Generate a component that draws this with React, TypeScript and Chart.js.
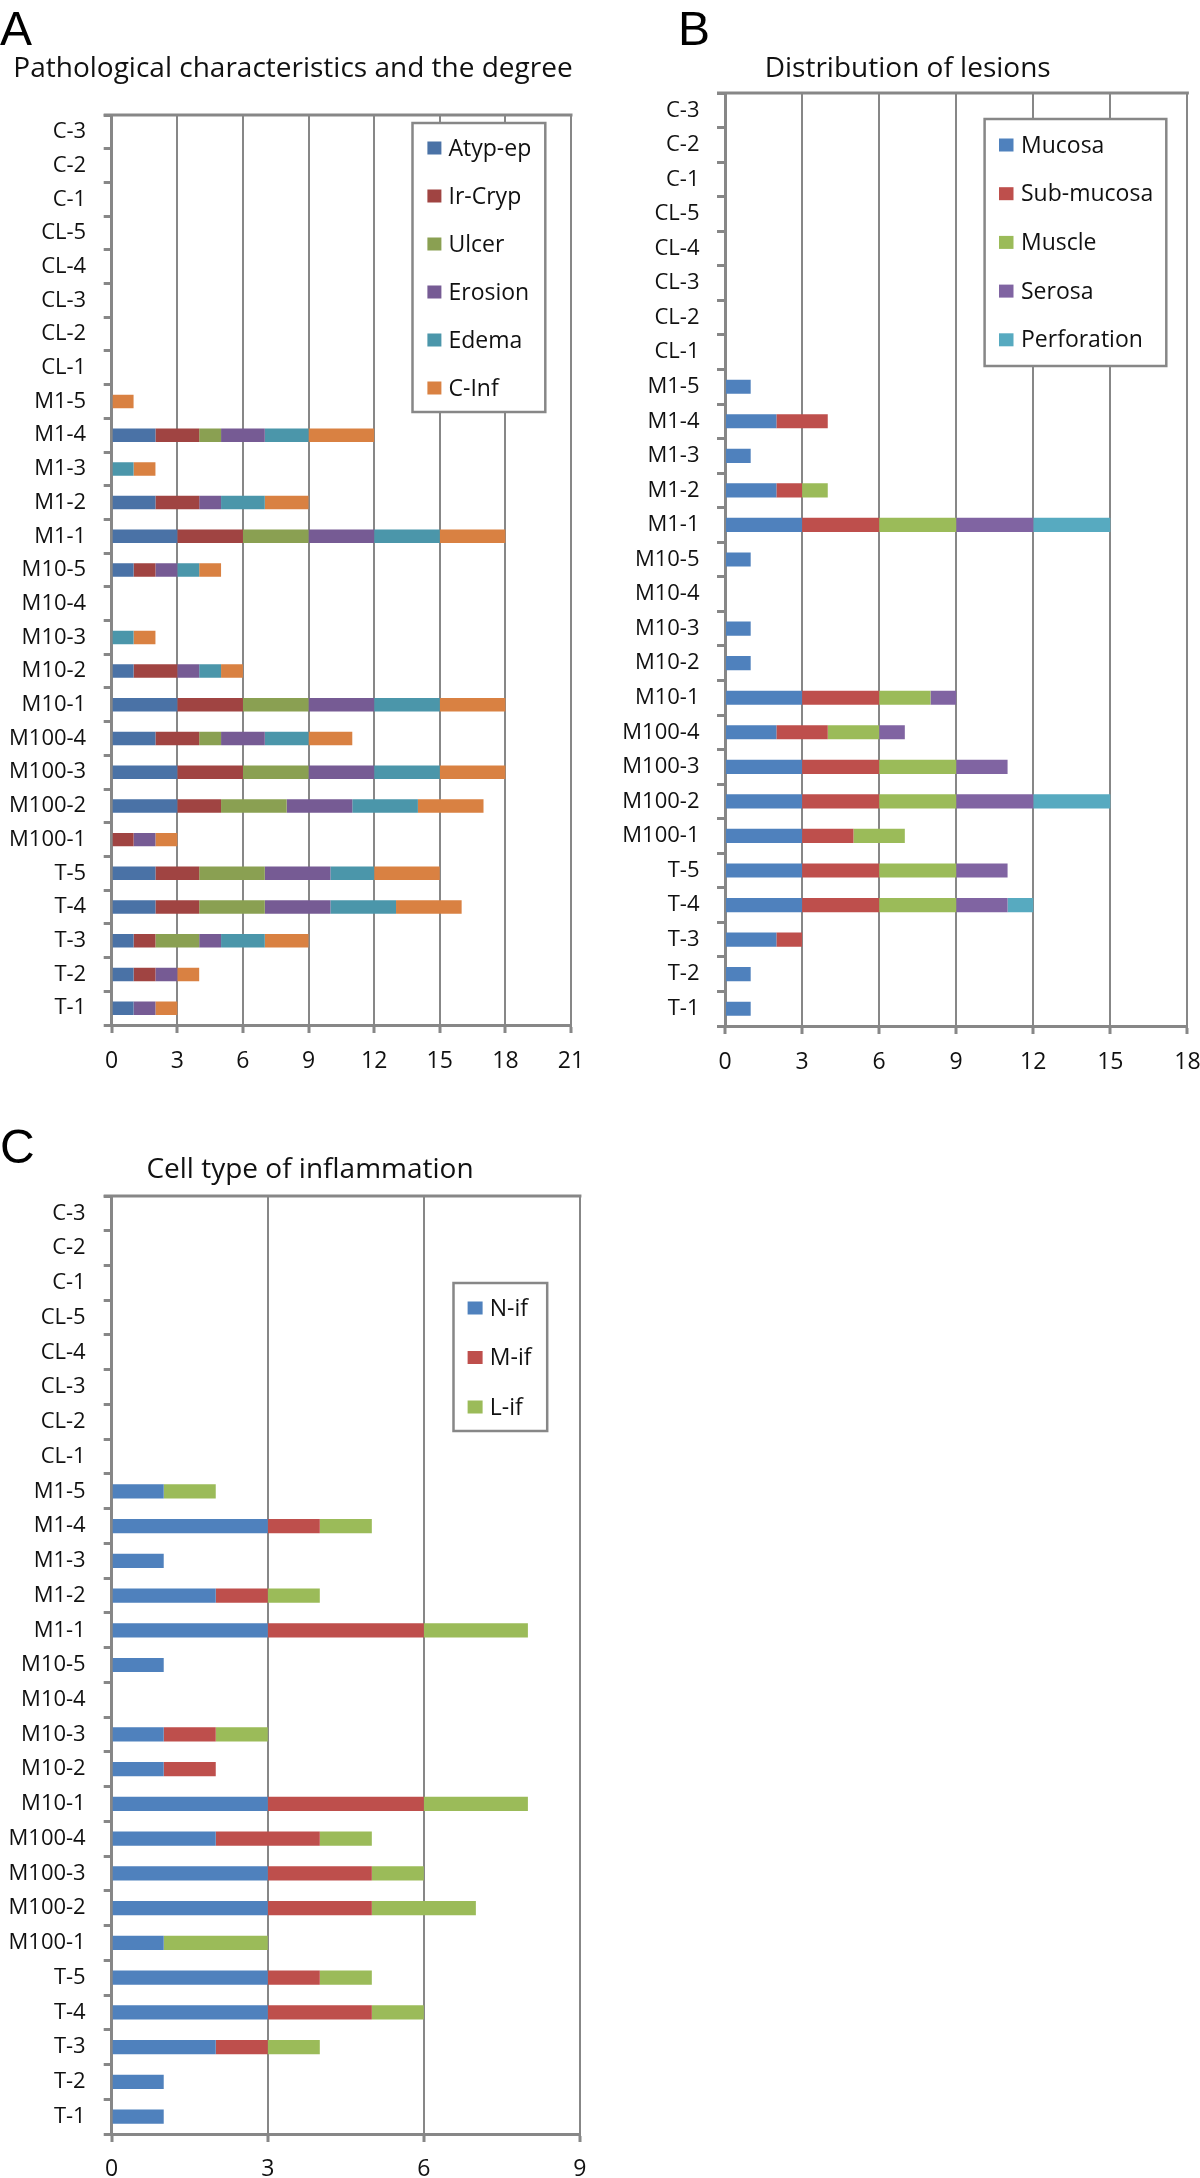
import React, { useEffect, useRef } from "react";
import { Chart, registerables } from "chart.js";

Chart.register(...registerables);

// ---------- data ----------
const categories = [
  "C-3", "C-2", "C-1", "CL-5", "CL-4", "CL-3", "CL-2", "CL-1",
  "M1-5", "M1-4", "M1-3", "M1-2", "M1-1",
  "M10-5", "M10-4", "M10-3", "M10-2", "M10-1",
  "M100-4", "M100-3", "M100-2", "M100-1",
  "T-5", "T-4", "T-3", "T-2", "T-1",
];

// Panel A: Pathological characteristics and the degree
const atypEp = [0, 0, 0, 0, 0, 0, 0, 0, 0, 2, 0, 2, 3, 1, 0, 0, 1, 3, 2, 3, 3, 0, 2, 2, 1, 1, 1];
const irCryp = [0, 0, 0, 0, 0, 0, 0, 0, 0, 2, 0, 2, 3, 1, 0, 0, 2, 3, 2, 3, 2, 1, 2, 2, 1, 1, 0];
const ulcer = [0, 0, 0, 0, 0, 0, 0, 0, 0, 1, 0, 0, 3, 0, 0, 0, 0, 3, 1, 3, 3, 0, 3, 3, 2, 0, 0];
const erosion = [0, 0, 0, 0, 0, 0, 0, 0, 0, 2, 0, 1, 3, 1, 0, 0, 1, 3, 2, 3, 3, 1, 3, 3, 1, 1, 1];
const edema = [0, 0, 0, 0, 0, 0, 0, 0, 0, 2, 1, 2, 3, 1, 0, 1, 1, 3, 2, 3, 3, 0, 2, 3, 2, 0, 0];
const cInf = [0, 0, 0, 0, 0, 0, 0, 0, 1, 3, 1, 2, 3, 1, 0, 1, 1, 3, 2, 3, 3, 1, 3, 3, 2, 1, 1];

// Panel B: Distribution of lesions
const mucosa = [0, 0, 0, 0, 0, 0, 0, 0, 1, 2, 1, 2, 3, 1, 0, 1, 1, 3, 2, 3, 3, 3, 3, 3, 2, 1, 1];
const subMucosa = [0, 0, 0, 0, 0, 0, 0, 0, 0, 2, 0, 1, 3, 0, 0, 0, 0, 3, 2, 3, 3, 2, 3, 3, 1, 0, 0];
const muscle = [0, 0, 0, 0, 0, 0, 0, 0, 0, 0, 0, 1, 3, 0, 0, 0, 0, 2, 2, 3, 3, 2, 3, 3, 0, 0, 0];
const serosa = [0, 0, 0, 0, 0, 0, 0, 0, 0, 0, 0, 0, 3, 0, 0, 0, 0, 1, 1, 2, 3, 0, 2, 2, 0, 0, 0];
const perforation = [0, 0, 0, 0, 0, 0, 0, 0, 0, 0, 0, 0, 3, 0, 0, 0, 0, 0, 0, 0, 3, 0, 0, 1, 0, 0, 0];

// Panel C: Cell type of inflammation
const nIf = [0, 0, 0, 0, 0, 0, 0, 0, 1, 3, 1, 2, 3, 1, 0, 1, 1, 3, 2, 3, 3, 1, 3, 3, 2, 1, 1];
const mIf = [0, 0, 0, 0, 0, 0, 0, 0, 0, 1, 0, 1, 3, 0, 0, 1, 1, 3, 2, 2, 2, 0, 1, 2, 1, 0, 0];
const lIf = [0, 0, 0, 0, 0, 0, 0, 0, 1, 1, 0, 1, 2, 0, 0, 1, 0, 2, 1, 1, 2, 2, 1, 1, 1, 0, 0];

const seriesA = ["Atyp-ep", "Ir-Cryp", "Ulcer", "Erosion", "Edema", "C-Inf"];
const seriesB = ["Mucosa", "Sub-mucosa", "Muscle", "Serosa", "Perforation"];
const seriesC = ["N-if", "M-if", "L-if"];

const xMaxA = 21;
const xMaxB = 18;
const xMaxC = 9;
const xStep = 3;

// ---------- styles ----------
const GRID = "#878787";
const FONT = '"Open Sans", "Noto Sans", sans-serif';
const TEXT = "#111111";
const colorsA = ["#4a72a6", "#a04442", "#8aa052", "#765b94", "#4b96aa", "#d98142"];
const colorsBC = ["#4f81bd", "#be4f4c", "#9bbb59", "#8064a2", "#57aac0"];

type Spec = {
  left: number;
  top: number;
  width: number;
  height: number;
  yAxisWidth: number;
  xAxisHeight: number;
  padTop: number;
  padRight: number;
  xMax: number;
  xLabelPad: number;
  yLabelPad: number;
  barPct: number;
  labels: string[];
  data: number[][];
  colors: string[];
  letter: string;
  letterX: number;
  letterBase: number;
  title: string;
  titleX: number;
  titleBase: number;
  legend: { x: number; y: number; w: number; h: number; y0: number; dy: number; mx: number; tx: number; mw: number; mh: number };
};

function makeDecor(spec: Spec) {
  return {
    id: "decor",
    beforeDatasetsDraw(chart: any) {
      const { ctx, chartArea } = chart;
      ctx.save();
      ctx.strokeStyle = GRID;
      ctx.lineWidth = 3;
      ctx.beginPath();
      ctx.moveTo(chartArea.left - 8, chartArea.top);
      ctx.lineTo(chartArea.right + 1.5, chartArea.top);
      ctx.stroke();
      ctx.restore();
    },
    afterDatasetsDraw(chart: any) {
      const { ctx } = chart;
      const L = spec.legend;
      ctx.save();
      ctx.fillStyle = "#ffffff";
      ctx.fillRect(L.x, L.y, L.w, L.h);
      ctx.strokeStyle = GRID;
      ctx.lineWidth = 2.5;
      ctx.strokeRect(L.x, L.y, L.w, L.h);
      ctx.font = `23px ${FONT}`;
      ctx.textBaseline = "middle";
      ctx.textAlign = "left";
      chart.data.datasets.forEach((ds: any, i: number) => {
        const cy = L.y0 + i * L.dy;
        ctx.fillStyle = ds.backgroundColor;
        ctx.fillRect(L.mx, cy - L.mh / 2, L.mw, L.mh);
        ctx.fillStyle = TEXT;
        ctx.fillText(ds.label, L.tx, cy + 1);
      });
      ctx.restore();
    },
    afterDraw(chart: any) {
      const { ctx } = chart;
      ctx.save();
      ctx.fillStyle = "#000";
      ctx.textBaseline = "alphabetic";
      ctx.textAlign = "left";
      ctx.font = `48px "Liberation Sans", Arial, sans-serif`;
      ctx.fillText(spec.letter, spec.letterX, spec.letterBase);
      ctx.fillStyle = TEXT;
      ctx.textAlign = "center";
      ctx.font = `28px ${FONT}`;
      ctx.fillText(spec.title, spec.titleX, spec.titleBase);
      ctx.restore();
    },
  };
}

function Panel({ spec }: { spec: Spec }) {
  const ref = useRef<HTMLCanvasElement | null>(null);
  useEffect(() => {
    const canvas = ref.current;
    if (!canvas) return;
    const chart = new Chart(canvas, {
      type: "bar",
      data: {
        labels: categories,
        datasets: spec.labels.map((label, i) => ({
          label,
          data: spec.data[i],
          backgroundColor: spec.colors[i],
          borderWidth: 0,
          barPercentage: spec.barPct,
          categoryPercentage: 1,
        })),
      },
      options: {
        indexAxis: "y",
        responsive: false,
        maintainAspectRatio: false,
        animation: false,
        devicePixelRatio: 1,
        layout: { padding: { left: 0, top: spec.padTop, right: spec.padRight, bottom: 0 } },
        plugins: { legend: { display: false }, tooltip: { enabled: false }, title: { display: false } },
        scales: {
          x: {
            type: "linear",
            stacked: true,
            min: 0,
            max: spec.xMax,
            ticks: { stepSize: xStep, color: TEXT, font: { family: FONT, size: 23 }, padding: spec.xLabelPad, maxRotation: 0 },
            grid: { color: GRID, lineWidth: 2, drawTicks: true, tickLength: 8, tickColor: GRID, tickWidth: 3 },
            border: { display: true, color: GRID, width: 3 },
            afterFit: (s: any) => {
              s.height = spec.xAxisHeight;
            },
          },
          y: {
            type: "category",
            stacked: true,
            offset: true,
            ticks: { autoSkip: false, color: TEXT, font: { family: FONT, size: 22 }, padding: spec.yLabelPad },
            grid: { offset: true, drawOnChartArea: false, drawTicks: true, tickLength: 8, color: GRID, lineWidth: 3 },
            border: { display: true, color: GRID, width: 3 },
            afterFit: (s: any) => {
              s.width = spec.yAxisWidth;
            },
          },
        },
      },
      plugins: [makeDecor(spec)],
    } as any);
    return () => chart.destroy();
  }, [spec]);
  return (
    <canvas
      ref={ref}
      width={spec.width}
      height={spec.height}
      style={{ position: "absolute", left: spec.left, top: spec.top, width: spec.width, height: spec.height }}
    />
  );
}

const specA: Spec = {
  left: 0, top: 0, width: 600, height: 1100,
  yAxisWidth: 111.7, xAxisHeight: 75, padTop: 115, padRight: 29,
  xMax: xMaxA, xLabelPad: 15, yLabelPad: 17.5, barPct: 0.4,
  labels: seriesA, data: [atypEp, irCryp, ulcer, erosion, edema, cInf], colors: colorsA,
  letter: "A", letterX: 0, letterBase: 45,
  title: "Pathological characteristics and the degree", titleX: 293, titleBase: 77,
  legend: { x: 412.5, y: 123, w: 132.8, h: 289, y0: 148, dy: 48, mx: 427.4, tx: 448.5, mw: 14, mh: 13 },
};

const specB: Spec = {
  left: 600, top: 0, width: 620, height: 1100,
  yAxisWidth: 125, xAxisHeight: 74, padTop: 93, padRight: 32.6,
  xMax: xMaxB, xLabelPad: 15, yLabelPad: 17.5, barPct: 0.41,
  labels: seriesB, data: [mucosa, subMucosa, muscle, serosa, perforation], colors: colorsBC,
  letter: "B", letterX: 78, letterBase: 45,
  title: "Distribution of lesions", titleX: 307.7, titleBase: 77,
  legend: { x: 384.6, y: 119, w: 181.7, h: 247, y0: 145, dy: 48.7, mx: 399, tx: 421, mw: 14.5, mh: 13 },
};

const specC: Spec = {
  left: 0, top: 1100, width: 600, height: 1078,
  yAxisWidth: 111.7, xAxisHeight: 44, padTop: 96, padRight: 18.4,
  xMax: xMaxC, xLabelPad: 13.5, yLabelPad: 18, barPct: 0.41,
  labels: seriesC, data: [nIf, mIf, lIf], colors: colorsBC.slice(0, 3),
  letter: "C", letterX: 0, letterBase: 63,
  title: "Cell type of inflammation", titleX: 310, titleBase: 78,
  legend: { x: 453.5, y: 183, w: 93.7, h: 148, y0: 208, dy: 49.5, mx: 467.6, tx: 489.8, mw: 15, mh: 13 },
};

export default function App() {
  return (
    <div style={{ position: "absolute", left: 0, top: 0, width: 1200, height: 2178, background: "#ffffff", overflow: "hidden" }}>
      <Panel spec={specA} />
      <Panel spec={specB} />
      <Panel spec={specC} />
    </div>
  );
}
